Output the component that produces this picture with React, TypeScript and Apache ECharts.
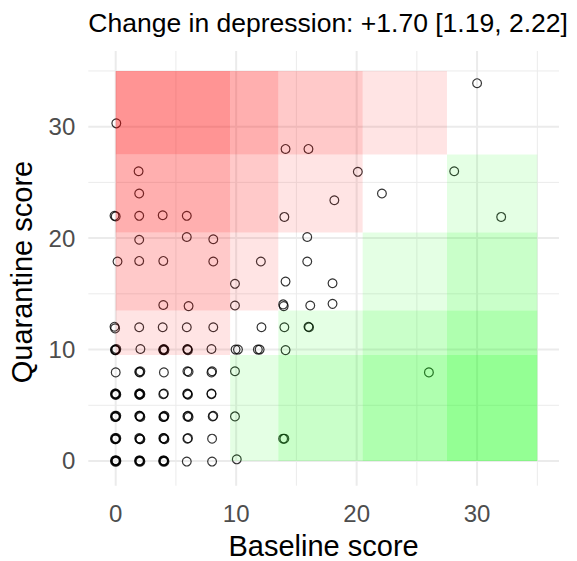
import React, { useEffect, useRef } from "react";
import * as echarts from "echarts";

// ---- data ----
const titleText = "Change in depression: +1.70 [1.19, 2.22]";
const xName = "Baseline score";
const yName = "Quarantine score";
const tickValues = [0, 10, 20, 30];
const majorBreaks = [0, 10, 20, 30];
const minorBreaks = [5, 15, 25, 35];
// severity category cut-offs (score units)
const severityBounds = [0, 9.5, 13.5, 20.5, 27.5, 35];

const baseline = [
  30.0, 0.05, 14.1, 16.0, 1.9, 20.1, 28.1, 1.95, 22.1, 18.15,
  -0.1, 0.0, 1.95, 3.9, 5.9, 14.0, 32.0, 1.95, 5.9, 8.1,
  15.9, 0.15, 1.95, 3.95, 8.1, 12.05, 15.9, 9.9, 14.1, 18.0,
  3.95, 6.05, 9.9, 13.9, 13.95, 16.15, 18.0, -0.1, -0.05, 1.95,
  3.9, 5.9, 8.1, 12.1, 14.0, 16.0, 16.05,
  // y ~ 10
  -0.05, 0.0, 0.05, -0.05, 2.05, 3.95, 4.0, 4.05, 3.95, 5.95, 6.0, 5.95,
  7.95, 9.95, 10.15, 11.8, 11.95, 14.1,
  // y ~ 8
  26.0, 0.0, 1.95, 2.0, 2.05, 4.0, 5.95, 6.05, 7.95, 8.0, 9.9,
  // y ~ 6
  0.0, -0.05, 0.05, 0.0, -0.05, 2.0, 1.95, 2.05, 2.0, 1.95, 3.95, 4.0,
  5.95, 5.95, 6.0, 7.95, 7.95,
  // y ~ 4
  0.0, -0.05, 0.05, 0.0, -0.05, 2.0, 1.95, 2.05, 2.0, 4.0, 3.95, 4.05, 4.0,
  5.95, 6.0, 6.05, 8.05, 8.1, 9.9,
  // y ~ 2
  0.0, -0.05, 0.05, 0.0, -0.05, 2.0, 1.95, 2.05, 2.0, 4.0, 3.95, 4.05, 4.0,
  6.0, 5.95, 8.0, 13.9, 14.0,
  // y ~ 0
  0.0, -0.05, 0.05, 0.0, -0.05, 0.05, 2.0, 1.95, 2.05, 2.0, 1.95,
  4.0, 3.95, 4.05, 4.0, 3.95, 5.9, 8.0, 10.05,
];

const quarantine = [
  33.9, 30.3, 28.0, 28.0, 26.0, 25.95, 26.0, 24.0, 24.0, 23.4,
  22.0, 21.95, 22.0, 22.05, 22.0, 21.9, 21.9, 19.85, 20.1, 19.9,
  20.1, 17.9, 17.95, 17.95, 17.9, 17.9, 17.9, 15.9, 16.1, 15.95,
  14.0, 13.9, 13.95, 14.05, 13.9, 13.95, 14.1, 12.05, 11.9, 12.0,
  12.0, 12.0, 12.0, 12.0, 12.0, 12.05, 12.0,
  // y ~ 10
  10.0, 9.95, 10.05, 9.95, 10.05, 9.95, 10.05, 9.95, 10.0, 10.05, 9.95, 10.0,
  10.05, 10.0, 10.0, 10.0, 10.0, 9.95,
  // y ~ 8
  7.95, 7.95, 8.0, 7.95, 8.05, 7.95, 8.05, 8.0, 7.95, 8.05, 8.05,
  // y ~ 6
  6.0, 6.05, 5.95, 6.05, 5.95, 6.05, 5.95, 6.0, 5.95, 6.05, 6.0, 6.05,
  6.0, 6.05, 5.95, 6.0, 6.05,
  // y ~ 4
  4.0, 3.95, 4.05, 3.95, 4.05, 4.0, 4.05, 3.95, 4.05, 4.0, 3.95, 4.05, 3.95,
  4.0, 4.05, 3.95, 4.0, 4.05, 4.0,
  // y ~ 2
  2.0, 1.95, 2.05, 1.95, 2.05, 2.0, 2.05, 1.95, 1.95, 2.0, 2.05, 1.95, 2.05,
  2.05, 2.0, 2.0, 2.0, 2.0,
  // y ~ 0
  0.0, 0.05, -0.05, 0.05, -0.05, 0.05, 0.0, 0.05, -0.05, 0.05, -0.05,
  0.0, 0.05, -0.05, 0.05, -0.05, -0.05, -0.05, 0.15,
];

const X_MIN = -2.275;
const X_MAX = 36.8;
const Y_MIN = -2.217;
const Y_MAX = 36.79;

const FONT = "'Liberation Sans', Arial, sans-serif";

export default function App() {
  const ref = useRef<HTMLDivElement>(null);

  useEffect(() => {
    if (!ref.current) return;
    const chart = echarts.init(ref.current, undefined, { renderer: "svg" });

    const points = baseline.map((b, i) => [b, quarantine[i]]);

    const gridData: number[][] = [];
    majorBreaks.forEach((v) => {
      gridData.push([v, 1, 0]);
      gridData.push([v, 1, 1]);
    });
    minorBreaks.forEach((v) => {
      gridData.push([v, 0, 0]);
      gridData.push([v, 0, 1]);
    });

    const cells: number[][] = [];
    for (let i = 0; i < severityBounds.length - 1; i++) {
      for (let j = 0; j < severityBounds.length - 1; j++) {
        cells.push([i, j]);
      }
    }

    const option: any = {
      animation: false,
      grid: {
        left: 88.3,
        top: 51,
        width: 470.7,
        height: 434.7,
        containLabel: false,
        outerBoundsMode: "none",
      },
      xAxis: {
        type: "value",
        min: X_MIN,
        max: X_MAX,
        axisLine: { show: false },
        axisTick: { show: false },
        splitLine: { show: false },
        axisLabel: {
          customValues: tickValues,
          fontSize: 24,
          color: "#4D4D4D",
          fontFamily: FONT,
          margin: 16,
        },
      },
      yAxis: {
        type: "value",
        min: Y_MIN,
        max: Y_MAX,
        axisLine: { show: false },
        axisTick: { show: false },
        splitLine: { show: false },
        axisLabel: {
          customValues: tickValues,
          fontSize: 24,
          color: "#4D4D4D",
          fontFamily: FONT,
          margin: 13,
        },
      },
      graphic: [
        {
          type: "text",
          x: 88.3,
          y: 22.5,
          style: {
            text: titleText,
            fontSize: 26.5,
            fontFamily: FONT,
            fill: "#000",
            textAlign: "left",
            textVerticalAlign: "middle",
          },
        },
        {
          type: "text",
          x: 323.6,
          y: 546,
          style: {
            text: xName,
            fontSize: 29,
            fontFamily: FONT,
            fill: "#000",
            textAlign: "center",
            textVerticalAlign: "middle",
          },
        },
        {
          type: "text",
          x: 22,
          y: 272,
          rotation: Math.PI / 2,
          style: {
            text: yName,
            fontSize: 29,
            fontFamily: FONT,
            fill: "#000",
            textAlign: "center",
            textVerticalAlign: "middle",
          },
        },
      ],
      series: [
        {
          type: "custom",
          silent: true,
          z: 1,
          data: gridData,
          renderItem: (_p: any, api: any) => {
            const v = api.value(0);
            const major = api.value(1) === 1;
            const vertical = api.value(2) === 0;
            const a = vertical ? api.coord([v, Y_MIN]) : api.coord([X_MIN, v]);
            const b = vertical ? api.coord([v, Y_MAX]) : api.coord([X_MAX, v]);
            return {
              type: "line",
              shape: { x1: a[0], y1: a[1], x2: b[0], y2: b[1] },
              style: { stroke: "#EBEBEB", lineWidth: major ? 2 : 1 },
            };
          },
        },
        {
          type: "scatter",
          silent: true,
          z: 2,
          data: points,
          symbol: "circle",
          symbolSize: 8.8,
          itemStyle: {
            color: "rgba(0,0,0,0)",
            borderColor: "#000",
            borderWidth: 1.2,
          },
        },
        {
          type: "custom",
          silent: true,
          z: 3,
          data: cells,
          renderItem: (_p: any, api: any) => {
            const i = api.value(0);
            const j = api.value(1);
            const p0 = api.coord([severityBounds[i], severityBounds[j + 1]]);
            const p1 = api.coord([severityBounds[i + 1], severityBounds[j]]);
            const d = j - i;
            const a = 0.105 * Math.abs(d);
            const fill =
              d > 0
                ? `rgba(255,0,0,${a})`
                : d < 0
                ? `rgba(0,255,0,${a})`
                : "rgba(0,0,0,0)";
            return {
              type: "rect",
              shape: {
                x: p0[0],
                y: p0[1],
                width: p1[0] - p0[0],
                height: p1[1] - p0[1],
              },
              style: { fill },
            };
          },
        },
      ],
    };

    chart.setOption(option);
    return () => chart.dispose();
  }, []);

  return (
    <div
      ref={ref}
      style={{ position: "absolute", left: 0, top: 0, width: 577, height: 561, background: "#fff" }}
    />
  );
}
